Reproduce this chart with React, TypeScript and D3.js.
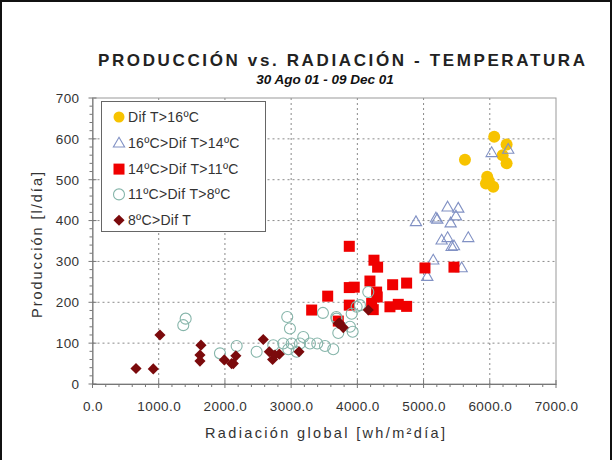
import React, { useEffect, useRef } from "react";
import * as d3 from "d3";

// Radiación global [wh/m2día] vs Producción [l/día], grouped by temperature difference
const difMayor16X = [6067, 6254, 6194, 6254, 5625, 5961, 5942, 6052, 5985];
const difMayor16Y = [605, 586, 560, 540, 549, 507, 491, 483, 497];

const dif16a14X = [6028, 6278, 5363, 5524, 5489, 4885, 5187, 5207, 5409, 5273, 5363, 5459, 5424, 5675, 5146, 5575, 5056];
const dif16a14Y = [567, 575, 434, 431, 412, 398, 407, 404, 395, 353, 359, 339, 337, 359, 304, 285, 264];

const dif14a11X = [3878, 4251, 4306, 5021, 5459, 4190, 4533, 4744, 3878, 3953, 4291, 3552, 4300, 3878, 4216, 4492, 4618, 4744, 3310, 4240, 3712];
const dif14a11Y = [337, 303, 286, 284, 286, 252, 243, 247, 236, 237, 225, 215, 213, 193, 197, 189, 195, 190, 181, 182, 154];

const dif11a8X = [1407, 1371, 1925, 2941, 2982, 2177, 2479, 2730, 2881, 2957, 3008, 3133, 3183, 3284, 3394, 3511, 3636, 3480, 3682, 3712, 3929, 3914, 3083, 3687, 4039, 4165, 3888, 3989];
const dif11a8Y = [160, 144, 75, 164, 136, 93, 79, 95, 99, 85, 99, 99, 115, 99, 99, 93, 85, 174, 164, 125, 128, 172, 79, 160, 193, 225, 140, 189];

const difMenor8X = [657, 918, 1019, 1638, 1623, 1623, 1990, 2101, 2165, 2127, 2579, 2670, 2720, 2821, 2756, 3119, 3712, 3787, 4165, 3732];
const difMenor8Y = [38, 37, 120, 95, 71, 56, 59, 50, 69, 50, 109, 79, 60, 73, 71, 79, 148, 138, 181, 149];

const legendLabels = ["Dif T>16ºC", "16ºC>Dif T>14ºC", "14ºC>Dif T>11ºC", "11ºC>Dif T>8ºC", "8ºC>Dif T"];
const xTicks = [0, 1000, 2000, 3000, 4000, 5000, 6000, 7000];
const yTicks = [0, 100, 200, 300, 400, 500, 600, 700];

const FONT = "Arial, 'Liberation Sans', sans-serif";

function App() {
	const ref = useRef(null);

	useEffect(() => {
		const svg = d3.select(ref.current);
		svg.selectAll("*").remove();

		const left = 92.5, right = 556, top = 98, bottom = 384;
		const x = d3.scaleLinear().domain([0, 7000]).range([left, right]);
		const y = d3.scaleLinear().domain([0, 700]).range([bottom, top]);

		// outer frame
		svg.append("rect")
			.attr("x", 1).attr("y", 1).attr("width", 610).attr("height", 470)
			.attr("fill", "white").attr("stroke", "#111").attr("stroke-width", 2);

		// title
		svg.append("text")
			.attr("x", 98).attr("y", 66)
			.attr("font-family", FONT).attr("font-weight", "bold").attr("font-size", "17px")
			.attr("fill", "#222")
			.attr("textLength", 487).attr("lengthAdjust", "spacing")
			.text("PRODUCCIÓN vs. RADIACIÓN - TEMPERATURA");

		svg.append("text")
			.attr("x", 325).attr("y", 84)
			.attr("text-anchor", "middle")
			.attr("font-family", FONT).attr("font-weight", "bold").attr("font-style", "italic")
			.attr("font-size", "13.5px").attr("fill", "#111")
			.text("30 Ago 01 - 09 Dec 01");

		// grid
		const g = svg.append("g");
		g.selectAll(".gx").data(xTicks.slice(1, -1)).enter().append("line")
			.attr("x1", (d) => x(d)).attr("x2", (d) => x(d))
			.attr("y1", top).attr("y2", bottom)
			.attr("stroke", "#8a8a8a").attr("stroke-dasharray", "2,3");
		g.selectAll(".gy").data(yTicks.slice(1, -1)).enter().append("line")
			.attr("x1", left).attr("x2", right)
			.attr("y1", (d) => y(d)).attr("y2", (d) => y(d))
			.attr("stroke", "#8a8a8a").attr("stroke-dasharray", "2,3");

		// plot frame
		g.append("rect")
			.attr("x", left).attr("y", top).attr("width", right - left).attr("height", bottom - top)
			.attr("fill", "none").attr("stroke", "#999");

		// axes
		const xAxis = d3.axisBottom(x).tickValues(xTicks).tickFormat(d3.format(".1f")).tickSize(0).tickPadding(17);
		const xa = svg.append("g").attr("transform", "translate(0," + bottom + ")").call(xAxis);
		xa.select(".domain").attr("stroke", "#777");
		xa.selectAll("text").attr("font-family", FONT).attr("font-size", "13.5px").attr("fill", "#333")
			.attr("letter-spacing", "0.4px");

		const yAxis = d3.axisLeft(y).tickValues(yTicks).tickSize(0).tickPadding(13);
		const ya = svg.append("g").attr("transform", "translate(" + left + ",0)").call(yAxis);
		ya.select(".domain").attr("stroke", "#777");
		ya.selectAll("text").attr("font-family", FONT).attr("font-size", "13.5px").attr("fill", "#333")
			.attr("letter-spacing", "0.4px");

		// ticks: major crossing, minor outward
		const minorX = d3.range(0, 7001, 200);
		svg.append("g").selectAll("line").data(minorX).enter().append("line")
			.attr("x1", (d) => x(d)).attr("x2", (d) => x(d))
			.attr("y1", (d) => (d % 1000 === 0 ? bottom - 4 : bottom))
			.attr("y2", (d) => (d % 1000 === 0 ? bottom + 4 : bottom + 3))
			.attr("stroke", "#777");
		const minorY = d3.range(0, 701, 20);
		svg.append("g").selectAll("line").data(minorY).enter().append("line")
			.attr("y1", (d) => y(d)).attr("y2", (d) => y(d))
			.attr("x1", (d) => (d % 100 === 0 ? left - 4 : left - 3))
			.attr("x2", (d) => (d % 100 === 0 ? left + 4 : left))
			.attr("stroke", "#777");

		// axis titles
		svg.append("text")
			.attr("x", 205).attr("y", 438)
			.attr("font-family", FONT).attr("font-size", "14.5px").attr("fill", "#333")
			.attr("textLength", 240).attr("lengthAdjust", "spacing")
			.text("Radiación global [wh/m²día]");

		svg.append("text")
			.attr("transform", "translate(42,318) rotate(-90)")
			.attr("font-family", FONT).attr("font-size", "14.5px").attr("fill", "#333")
			.attr("textLength", 146).attr("lengthAdjust", "spacing")
			.text("Producción [l/día]");

		// markers
		const pts = (xs, ys) => xs.map((v, i) => ({ x: v, y: ys[i] }));
		const tri = d3.symbol().type(d3.symbolTriangle).size(55);
		// diamond = square turned 45 degrees
		const dia = d3.symbol().type(d3.symbolSquare).size(62);

		const plot = svg.append("g");
		plot.selectAll(".gold").data(pts(difMayor16X, difMayor16Y)).enter().append("circle")
			.attr("cx", (d) => x(d.x)).attr("cy", (d) => y(d.y)).attr("r", 6)
			.attr("fill", "#f7c300");

		plot.selectAll(".tri").data(pts(dif16a14X, dif16a14Y)).enter().append("path")
			.attr("d", tri)
			.attr("transform", (d) => "translate(" + x(d.x) + "," + (y(d.y) + 1) + ")")
			.attr("fill", "none").attr("stroke", "#8191c4").attr("stroke-width", 1.1);

		plot.selectAll(".sq").data(pts(dif14a11X, dif14a11Y)).enter().append("rect")
			.attr("x", (d) => x(d.x) - 5.5).attr("y", (d) => y(d.y) - 5.5)
			.attr("width", 11).attr("height", 11)
			.attr("fill", "#f00000");

		plot.selectAll(".circ").data(pts(dif11a8X, dif11a8Y)).enter().append("circle")
			.attr("cx", (d) => x(d.x)).attr("cy", (d) => y(d.y)).attr("r", 5.5)
			.attr("fill", "none").attr("stroke", "#86b5aa").attr("stroke-width", 1.1);

		plot.selectAll(".dia").data(pts(difMenor8X, difMenor8Y)).enter().append("path")
			.attr("d", dia)
			.attr("transform", (d) => "translate(" + x(d.x) + "," + y(d.y) + ") rotate(45)")
			.attr("fill", "#7b0a0c");

		// legend
		const lg = svg.append("g");
		lg.append("rect")
			.attr("x", 101.5).attr("y", 101.5).attr("width", 164).attr("height", 130)
			.attr("fill", "white").attr("stroke", "#666");
		legendLabels.forEach((label, i) => {
			const cy = 117 + i * 25.8;
			const cx = 119;
			if (i === 0) lg.append("circle").attr("cx", cx).attr("cy", cy).attr("r", 5.5).attr("fill", "#f7c300");
			if (i === 1) lg.append("path").attr("d", tri).attr("transform", "translate(" + cx + "," + (cy + 1) + ")")
				.attr("fill", "none").attr("stroke", "#8191c4").attr("stroke-width", 1.1);
			if (i === 2) lg.append("rect").attr("x", cx - 5.5).attr("y", cy - 5).attr("width", 11).attr("height", 11).attr("fill", "#f00000");
			if (i === 3) lg.append("circle").attr("cx", cx).attr("cy", cy).attr("r", 5.5)
				.attr("fill", "none").attr("stroke", "#86b5aa").attr("stroke-width", 1.1);
			if (i === 4) lg.append("path").attr("d", dia).attr("transform", "translate(" + cx + "," + cy + ") rotate(45)").attr("fill", "#7b0a0c");
			lg.append("text")
				.attr("x", 128).attr("y", cy + 5)
				.attr("font-family", FONT).attr("font-size", "14px").attr("fill", "#333")
				.attr("letter-spacing", "0.3px")
				.text(label);
		});
	}, []);

	return (
		<div>
			<svg ref={ref} width={613} height={460} style={{ position: "absolute", left: 0, top: 0 }} />
		</div>
	);
}

export default App;
